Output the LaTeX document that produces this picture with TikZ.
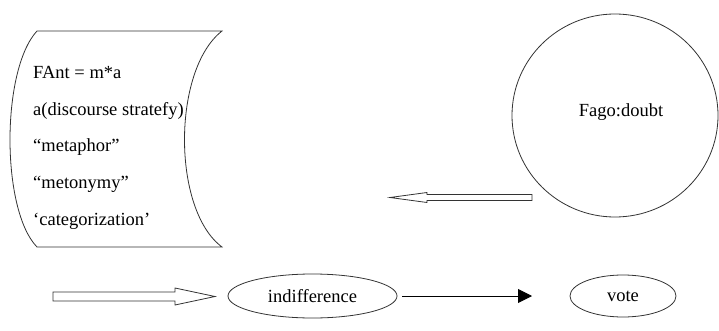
\documentclass[tikz,border=0pt]{standalone}
\usepackage{fontspec}
\setmainfont{Liberation Serif}
\usetikzlibrary{shapes.geometric,arrows.meta}
\tikzset{
  outline/.style={draw=black!80, line width=0.8pt},
  oval/.style={outline, ellipse, inner sep=0pt},
  listitem/.style={anchor=base west, inner sep=0pt},
}
\begin{document}
\begin{tikzpicture}[x=1pt,y=-1pt,font=\fontsize{18.5}{22}\selectfont]
\useasboundingbox (0,0) rectangle (719,331);

% stored data shape with the list
\draw[outline] (37,31) -- (222,31) .. controls (172,70) and (172,210) .. (222,247)
  -- (37,247) .. controls (1,210) and (1,70) .. (37,31);
\node[listitem] (fant) at (33,79) {FAnt = m*a};
\node[listitem] (discourse) at (33,116) {a(discourse stratefy)};
\node[listitem] (metaphor) at (33,152) {“metaphor”};
\node[listitem] (metonymy) at (33,188) {“metonymy”};
\node[listitem] (categ) at (33,225) {‘categorization’};

% circle
\node[oval, minimum width=206pt, minimum height=203pt] (doubtcirc) at (615,115.5) {};
\node (fago) at (621,112) {Fago:doubt};

% hollow arrows
\draw[outline] (532,194.5) -- (427,194.5) -- (427,192.5) -- (390,197.5)
  -- (427,202.5) -- (427,200.5) -- (532,200.5) -- cycle;
\draw[outline] (53,292) -- (175,292) -- (175,288) -- (215,296.5)
  -- (175,305) -- (175,301) -- (53,301) -- cycle;

% bottom row
\node[oval, minimum width=169pt, minimum height=44pt] (indiff) at (312.5,296) {indifference};
\node[oval, minimum width=106pt, minimum height=42pt] (vote) at (623,296) {vote};
\coordinate (votetip) at (532,296);
\draw[line width=0.9pt, shorten <=5pt, -{Triangle[length=14pt,width=14pt]}] (indiff.east) -- (votetip);
\end{tikzpicture}
\end{document}
